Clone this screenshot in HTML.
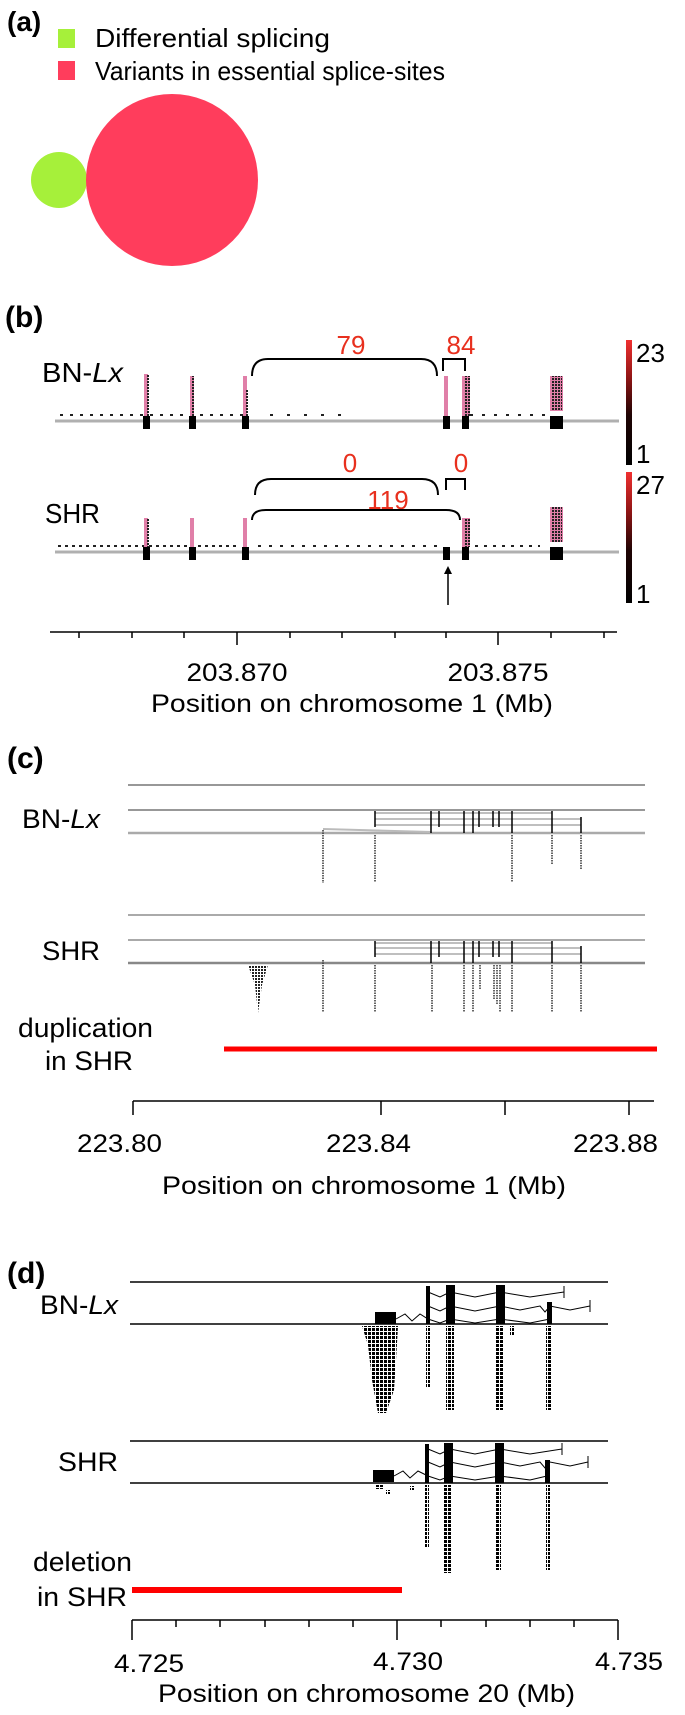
<!DOCTYPE html>
<html><head><meta charset="utf-8"><style>
html,body{margin:0;padding:0;background:#fff;}
svg{display:block;}
text{font-family:"Liberation Sans",Arial,sans-serif;}
</style></head><body>
<svg width="685" height="1715" viewBox="0 0 685 1715" xmlns="http://www.w3.org/2000/svg">
<defs>
<pattern id="sq" width="4" height="4" patternUnits="userSpaceOnUse"><rect x="0" y="0" width="3" height="3" fill="#000"/></pattern>
<pattern id="sqs" width="3" height="3" patternUnits="userSpaceOnUse"><rect x="0" y="0" width="2" height="2" fill="#222"/></pattern>
<linearGradient id="cb" x1="0" y1="0" x2="0" y2="1">
<stop offset="0" stop-color="#f03030"/><stop offset="0.3" stop-color="#901515"/><stop offset="0.6" stop-color="#200404"/><stop offset="1" stop-color="#000"/></linearGradient>
</defs>

<!-- (a) -->
<text x="7" y="31" font-size="28" font-weight="bold">(a)</text>
<rect x="58" y="29" width="17" height="19" fill="#a6f03a"/>
<text x="95" y="47" font-size="26" textLength="235" lengthAdjust="spacingAndGlyphs">Differential splicing</text>
<rect x="58" y="61" width="17" height="19" fill="#ff3d5c"/>
<text x="95" y="80" font-size="26" textLength="350" lengthAdjust="spacingAndGlyphs">Variants in essential splice-sites</text>
<circle cx="59" cy="180" r="28" fill="#a6f03a"/>
<circle cx="172" cy="180" r="86" fill="#ff3d5c"/>

<!-- (b) -->
<text x="5" y="327" font-size="30" font-weight="bold">(b)</text>
<text x="42" y="382" font-size="28" textLength="81" lengthAdjust="spacingAndGlyphs">BN-<tspan font-style="italic">Lx</tspan></text>
<text x="45" y="523" font-size="28" textLength="55" lengthAdjust="spacingAndGlyphs">SHR</text>
<g fill="#e8301e" font-size="26" text-anchor="middle">
<text x="351" y="354">79</text><text x="461" y="354">84</text>
<text x="350" y="472">0</text><text x="461" y="472">0</text>
<text x="388" y="509">119</text>
</g>
<g fill="none" stroke="#000" stroke-width="2">
<path d="M252 376 Q252 359 268 359 L421 359 Q437 359 437 376"/>
<path d="M443 371 L443 359 L465 359 L465 371"/>
<path d="M255 495 Q255 479 271 479 L422 479 Q438 479 438 495"/>
<path d="M446 490 L446 479 L465 479 L465 490"/>
<path d="M252 520 Q252 510 266 510 L446 510 Q460 510 460 520"/>
</g>
<!-- BN track -->
<line x1="55" y1="421" x2="619" y2="421" stroke="#b0b0b0" stroke-width="3"/>
<line x1="60" y1="415" x2="250" y2="415" stroke="#222" stroke-width="2" stroke-dasharray="3,7"/>
<line x1="270" y1="415" x2="350" y2="415" stroke="#222" stroke-width="2" stroke-dasharray="3,14"/>
<line x1="470" y1="415" x2="545" y2="415" stroke="#222" stroke-width="2" stroke-dasharray="3,9"/>
<g fill="#000"><rect x="143" y="416" width="7" height="13"/><rect x="189" y="416" width="7" height="13"/><rect x="242" y="416" width="7" height="13"/><rect x="443" y="416" width="7" height="13"/><rect x="462" y="416" width="7" height="13"/><rect x="550" y="416" width="13" height="13"/></g>
<g fill="#e07fa8"><rect x="144" y="374" width="4" height="42"/><rect x="190" y="376" width="4" height="40"/><rect x="243" y="376" width="4" height="40"/><rect x="444" y="376" width="4" height="40"/><rect x="462" y="376" width="8" height="40"/><rect x="550" y="376" width="13" height="35"/></g>
<g fill="url(#sqs)"><rect x="146" y="374" width="4" height="42"/><rect x="192" y="376" width="2" height="40"/><rect x="245" y="390" width="3" height="26"/><rect x="464" y="376" width="6" height="40"/><rect x="552" y="376" width="10" height="35"/></g>
<!-- SHR track -->
<line x1="55" y1="552" x2="619" y2="552" stroke="#b0b0b0" stroke-width="3"/>
<line x1="58" y1="546" x2="240" y2="546" stroke="#222" stroke-width="2" stroke-dasharray="3,4"/>
<line x1="258" y1="546" x2="440" y2="546" stroke="#222" stroke-width="2" stroke-dasharray="3,8"/>
<line x1="475" y1="546" x2="540" y2="546" stroke="#222" stroke-width="2" stroke-dasharray="3,6"/>
<g fill="#000"><rect x="143" y="547" width="7" height="13"/><rect x="189" y="547" width="7" height="13"/><rect x="242" y="547" width="7" height="13"/><rect x="443" y="547" width="7" height="13"/><rect x="462" y="547" width="7" height="13"/><rect x="550" y="547" width="13" height="13"/></g>
<g fill="#e07fa8"><rect x="144" y="518" width="4" height="29"/><rect x="190" y="518" width="4" height="29"/><rect x="243" y="518" width="4" height="29"/><rect x="462" y="518" width="8" height="29"/><rect x="550" y="507" width="13" height="35"/></g>
<g fill="url(#sqs)"><rect x="146" y="518" width="4" height="29"/><rect x="464" y="518" width="6" height="29"/><rect x="552" y="507" width="10" height="35"/></g>
<!-- colorbars -->
<rect x="626" y="340" width="6" height="125" fill="url(#cb)"/>
<rect x="626" y="472" width="6" height="131" fill="url(#cb)"/>
<g font-size="26"><text x="636" y="362">23</text><text x="636" y="463">1</text><text x="636" y="494">27</text><text x="636" y="603">1</text></g>
<!-- arrow -->
<line x1="448" y1="605" x2="448" y2="570" stroke="#000" stroke-width="1.5"/>
<path d="M444 574 L448 566 L452 574 Z" fill="#000"/>
<!-- axis b -->
<line x1="50" y1="632" x2="617" y2="632" stroke="#000" stroke-width="1.5"/>
<g stroke="#000" stroke-width="1.5">
<line x1="79" y1="632" x2="79" y2="638"/><line x1="132" y1="632" x2="132" y2="638"/><line x1="184" y1="632" x2="184" y2="638"/><line x1="237" y1="632" x2="237" y2="645"/><line x1="290" y1="632" x2="290" y2="638"/><line x1="342" y1="632" x2="342" y2="638"/><line x1="395" y1="632" x2="395" y2="638"/><line x1="446" y1="632" x2="446" y2="638"/><line x1="498" y1="632" x2="498" y2="645"/><line x1="551" y1="632" x2="551" y2="638"/><line x1="604" y1="632" x2="604" y2="638"/>
</g>
<g font-size="25" text-anchor="middle"><text x="237" y="681" textLength="101" lengthAdjust="spacingAndGlyphs">203.870</text><text x="498" y="681" textLength="101" lengthAdjust="spacingAndGlyphs">203.875</text></g>
<text x="151" y="712" font-size="25" textLength="402" lengthAdjust="spacingAndGlyphs">Position on chromosome 1 (Mb)</text>

<!-- (c) -->
<text x="7" y="768" font-size="30" font-weight="bold">(c)</text>
<text x="22" y="828" font-size="27" textLength="78" lengthAdjust="spacingAndGlyphs">BN-<tspan font-style="italic">Lx</tspan></text>
<text x="42" y="960" font-size="27" textLength="58" lengthAdjust="spacingAndGlyphs">SHR</text>
<text x="18" y="1037" font-size="27" textLength="135" lengthAdjust="spacingAndGlyphs">duplication</text>
<text x="45" y="1070" font-size="27" textLength="88" lengthAdjust="spacingAndGlyphs">in SHR</text>
<g stroke-width="1.5">
<line x1="128" y1="785" x2="645" y2="785" stroke="#777"/>
<line x1="128" y1="810" x2="645" y2="810" stroke="#777"/>
<line x1="128" y1="833" x2="645" y2="833" stroke="#aaa" stroke-width="2.5"/>
<line x1="128" y1="915" x2="645" y2="915" stroke="#aaa" stroke-width="2"/>
<line x1="128" y1="940" x2="645" y2="940" stroke="#aaa" stroke-width="2"/>
<line x1="128" y1="963" x2="645" y2="963" stroke="#888" stroke-width="2.5"/>
</g>
<path d="M323 830 L323 828 L431 831 L431 833 Z" fill="#bbb"/>
<g fill="none" stroke="#555" stroke-width="0.8">
<path d="M375 813 L431 813 L464 813 L512 813 L552 813"/>
<path d="M375 819 L431 819 L464 819 L512 819 L552 819 L581 819"/>
<path d="M375 825 L431 825 L464 825 L512 825 L552 825 L581 825"/>
<path d="M375 943 L552 943"/><path d="M375 948 L581 948"/><path d="M375 954 L581 954"/>
</g>
<g stroke="#000" stroke-width="1.5">
<line x1="375" y1="811" x2="375" y2="827"/><line x1="431" y1="811" x2="431" y2="833"/><line x1="439" y1="811" x2="439" y2="827"/><line x1="464" y1="811" x2="464" y2="833"/><line x1="473" y1="811" x2="473" y2="833"/><line x1="479" y1="811" x2="479" y2="827"/><line x1="493" y1="811" x2="493" y2="827"/><line x1="499" y1="811" x2="499" y2="827"/><line x1="512" y1="811" x2="512" y2="833"/><line x1="552" y1="811" x2="552" y2="833"/><line x1="581" y1="817" x2="581" y2="833"/>
<line x1="375" y1="941" x2="375" y2="957"/><line x1="431" y1="941" x2="431" y2="963"/><line x1="439" y1="941" x2="439" y2="957"/><line x1="464" y1="941" x2="464" y2="963"/><line x1="473" y1="941" x2="473" y2="963"/><line x1="479" y1="941" x2="479" y2="957"/><line x1="493" y1="941" x2="493" y2="957"/><line x1="499" y1="941" x2="499" y2="957"/><line x1="512" y1="941" x2="512" y2="963"/><line x1="552" y1="941" x2="552" y2="963"/><line x1="581" y1="946" x2="581" y2="963"/>
</g>
<g stroke="#333" stroke-width="1.5" stroke-dasharray="1.5,1">
<line x1="323" y1="830" x2="323" y2="883"/><line x1="375" y1="835" x2="375" y2="882"/><line x1="512" y1="835" x2="512" y2="882"/><line x1="552" y1="835" x2="552" y2="865"/><line x1="581" y1="835" x2="581" y2="870"/>
<line x1="323" y1="960" x2="323" y2="1012"/><line x1="375" y1="965" x2="375" y2="1012"/><line x1="432" y1="965" x2="432" y2="1012"/><line x1="464" y1="965" x2="464" y2="1012"/><line x1="473" y1="965" x2="473" y2="1012"/><line x1="480" y1="965" x2="480" y2="990"/><line x1="512" y1="965" x2="512" y2="1012"/><line x1="552" y1="965" x2="552" y2="1012"/><line x1="581" y1="965" x2="581" y2="1012"/>
<line x1="494" y1="965" x2="494" y2="1000"/><line x1="497" y1="965" x2="497" y2="1005"/><line x1="500" y1="965" x2="500" y2="1012"/>
</g>
<path d="M248 965 L268 965 L262 985 L258 1013 L255 985 Z" fill="url(#sqs)"/>
<line x1="224" y1="1049" x2="657" y2="1049" stroke="#f00" stroke-width="5"/>
<line x1="133" y1="1101" x2="654" y2="1101" stroke="#000" stroke-width="1.5"/>
<g stroke="#000" stroke-width="1.5"><line x1="133" y1="1101" x2="133" y2="1115"/><line x1="381" y1="1101" x2="381" y2="1115"/><line x1="505" y1="1101" x2="505" y2="1115"/><line x1="629" y1="1101" x2="629" y2="1115"/></g>
<g font-size="25"><text x="77" y="1152" textLength="85" lengthAdjust="spacingAndGlyphs">223.80</text><text x="326" y="1152" textLength="85" lengthAdjust="spacingAndGlyphs">223.84</text><text x="573" y="1152" textLength="85" lengthAdjust="spacingAndGlyphs">223.88</text></g>
<text x="162" y="1194" font-size="25" textLength="404" lengthAdjust="spacingAndGlyphs">Position on chromosome 1 (Mb)</text>

<!-- (d) -->
<text x="7" y="1283" font-size="30" font-weight="bold">(d)</text>
<text x="40" y="1314" font-size="27" textLength="78" lengthAdjust="spacingAndGlyphs">BN-<tspan font-style="italic">Lx</tspan></text>
<text x="58" y="1471" font-size="27" textLength="60" lengthAdjust="spacingAndGlyphs">SHR</text>
<g stroke="#000" stroke-width="1.5">
<line x1="130" y1="1282" x2="608" y2="1282"/><line x1="130" y1="1324" x2="608" y2="1324"/>
<line x1="130" y1="1441" x2="608" y2="1441"/><line x1="130" y1="1483" x2="608" y2="1483"/>
</g>
<g fill="none" stroke="#000" stroke-width="1">
<path d="M428 1292 L440 1297 L450 1292 L475 1297 L500 1292 L530 1297 L564 1292"/><line x1="564" y1="1286" x2="564" y2="1298"/>
<path d="M428 1306 L440 1311 L450 1306 L475 1311 L500 1306 L520 1310 L540 1306 L545 1312 L550 1306 L570 1310 L590 1306"/><line x1="590" y1="1300" x2="590" y2="1312"/>
<path d="M396 1319 L405 1314 L412 1321 L420 1314 L428 1319 L440 1323 L450 1319 L475 1323 L500 1319 L530 1323 L550 1319"/>
<path d="M428 1449 L440 1454 L450 1449 L475 1454 L500 1449 L530 1454 L562 1449"/><line x1="562" y1="1443" x2="562" y2="1455"/>
<path d="M428 1462 L440 1467 L450 1462 L475 1467 L500 1462 L520 1466 L540 1462 L545 1468 L550 1462 L570 1466 L588 1462"/><line x1="588" y1="1456" x2="588" y2="1468"/>
<path d="M394 1476 L403 1471 L410 1478 L418 1471 L428 1476 L440 1480 L450 1476 L475 1480 L500 1476 L530 1480 L547 1476"/>
</g>
<g fill="#000">
<rect x="375" y="1312" width="21" height="12"/><rect x="426" y="1286" width="4" height="38"/><rect x="446" y="1285" width="9" height="39"/><rect x="496" y="1285" width="9" height="39"/><rect x="547" y="1302" width="5" height="22"/>
<rect x="373" y="1470" width="21" height="12"/><rect x="425" y="1444" width="4" height="39"/><rect x="444" y="1443" width="9" height="40"/><rect x="495" y="1443" width="9" height="40"/><rect x="545" y="1460" width="5" height="23"/>
</g>
<path d="M362 1326 L398 1326 L396 1360 L394 1390 L386 1413 L378 1413 L372 1380 L368 1345 Z" fill="url(#sq)"/>
<g fill="url(#sq)">
<rect x="426" y="1326" width="4" height="62"/><rect x="446" y="1326" width="8" height="84"/><rect x="496" y="1326" width="8" height="84"/><rect x="510" y="1326" width="4" height="10"/><rect x="546" y="1326" width="6" height="84"/>
<rect x="425" y="1485" width="4" height="63"/><rect x="444" y="1485" width="8" height="88"/><rect x="496" y="1485" width="5" height="85"/><rect x="546" y="1485" width="4" height="85"/>
<rect x="376" y="1485" width="7" height="4"/><rect x="386" y="1490" width="4" height="4"/><rect x="410" y="1486" width="4" height="4"/>
</g>
<text x="33" y="1571" font-size="27" textLength="99" lengthAdjust="spacingAndGlyphs">deletion</text>
<text x="37" y="1606" font-size="27" textLength="90" lengthAdjust="spacingAndGlyphs">in SHR</text>
<line x1="132" y1="1590" x2="402" y2="1590" stroke="#f00" stroke-width="6"/>
<line x1="132" y1="1620" x2="618" y2="1620" stroke="#000" stroke-width="1.5"/>
<g stroke="#000" stroke-width="1.5">
<line x1="132" y1="1620" x2="132" y2="1640"/><line x1="176" y1="1620" x2="176" y2="1627"/><line x1="220" y1="1620" x2="220" y2="1627"/><line x1="265" y1="1620" x2="265" y2="1627"/><line x1="309" y1="1620" x2="309" y2="1627"/><line x1="353" y1="1620" x2="353" y2="1627"/><line x1="397" y1="1620" x2="397" y2="1640"/><line x1="441" y1="1620" x2="441" y2="1627"/><line x1="486" y1="1620" x2="486" y2="1627"/><line x1="530" y1="1620" x2="530" y2="1627"/><line x1="574" y1="1620" x2="574" y2="1627"/><line x1="618" y1="1620" x2="618" y2="1640"/>
</g>
<g font-size="25"><text x="114" y="1672" textLength="70" lengthAdjust="spacingAndGlyphs">4.725</text><text x="373" y="1670" textLength="70" lengthAdjust="spacingAndGlyphs">4.730</text><text x="595" y="1670" textLength="68" lengthAdjust="spacingAndGlyphs">4.735</text></g>
<text x="158" y="1702" font-size="25" textLength="417" lengthAdjust="spacingAndGlyphs">Position on chromosome 20 (Mb)</text>
</svg>
</body></html>
